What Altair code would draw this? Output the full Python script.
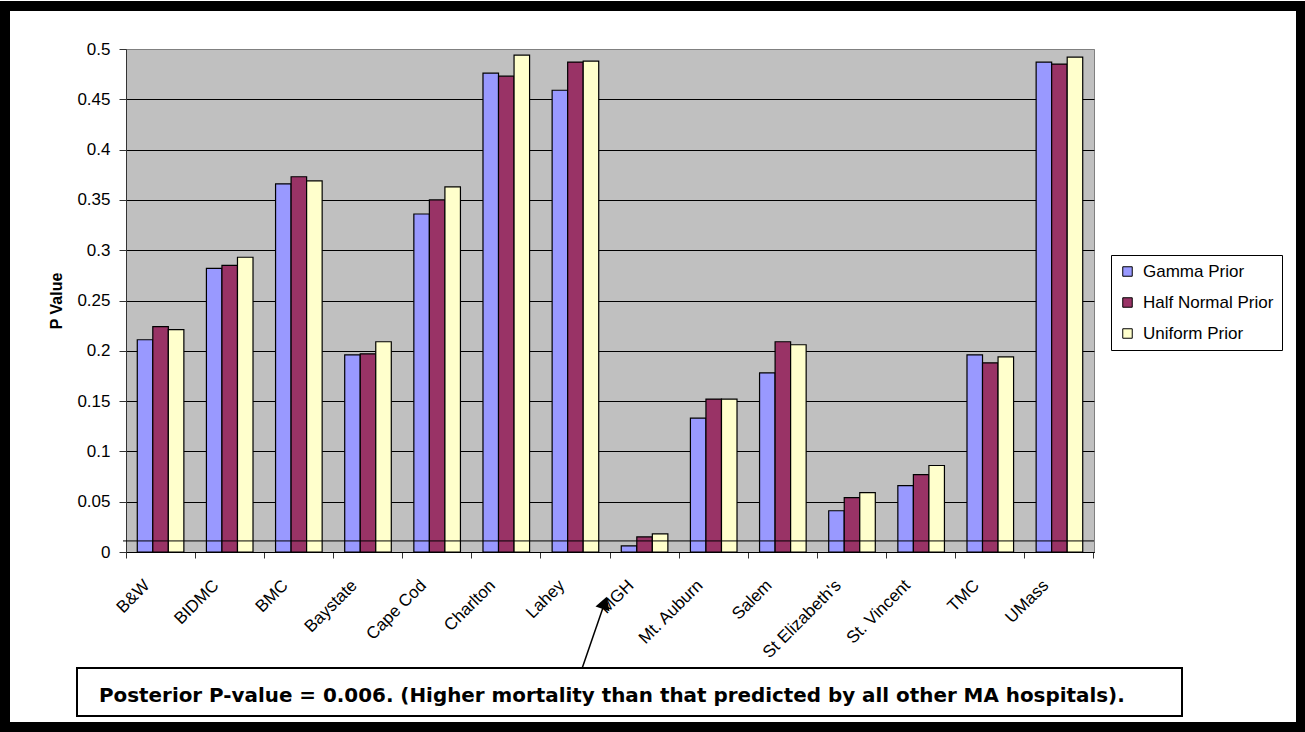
import altair as alt
import pandas as pd

hospitals = ["B&W", "BIDMC", "BMC", "Baystate", "Cape Cod", "Charlton", "Lahey", "MGH",
             "Mt. Auburn", "Salem", "St Elizabeth's", "St. Vincent", "TMC", "UMass"]
priors = ["Gamma Prior", "Half Normal Prior", "Uniform Prior"]
gamma = [0.211, 0.282, 0.366, 0.196, 0.336, 0.476, 0.459, 0.006, 0.133, 0.178, 0.041, 0.066, 0.196, 0.487]
half_normal = [0.224, 0.285, 0.373, 0.197, 0.350, 0.473, 0.487, 0.015, 0.152, 0.209, 0.054, 0.077, 0.188, 0.485]
uniform = [0.221, 0.293, 0.369, 0.209, 0.363, 0.494, 0.488, 0.018, 0.152, 0.206, 0.059, 0.086, 0.194, 0.492]
colors = ["#9999FF", "#993366", "#FFFFCC"]
y_ticks = [0, 0.05, 0.1, 0.15, 0.2, 0.25, 0.3, 0.35, 0.4, 0.45, 0.5]
threshold = [0.011]
note = "Posterior P-value = 0.006. (Higher mortality than that predicted by all other MA hospitals)."

rows = []
for series, vals in zip(priors, [gamma, half_normal, uniform]):
    for h, v in zip(hospitals, vals):
        rows.append({"hospital": h, "prior": series, "value": v})
df = pd.DataFrame(rows)

W, H = 968, 503

bars = alt.Chart(df).mark_bar(stroke="black", strokeWidth=1.2).encode(
    x=alt.X("hospital:N", sort=hospitals,
            scale=alt.Scale(paddingInner=0, paddingOuter=0),
            axis=alt.Axis(title=None, labelAngle=-45, labelAlign="right",
                          labelBaseline="alphabetic", labelFontSize=17,
                          labelColor="black", labelPadding=28, labelOverlap=False,
                          bandPosition=1, tickExtra=True, labelOffset=-10,
                          tickSize=6, tickColor="#333333", domainColor="black",
                          grid=False, labelLimit=0)),
    xOffset=alt.XOffset("prior:N", sort=priors,
                        scale=alt.Scale(paddingInner=0, paddingOuter=0.726)),
    y=alt.Y("value:Q", scale=alt.Scale(domain=[0, 0.5], nice=False),
            axis=alt.Axis(values=y_ticks, format="~g", title="P Value",
                          titleFontSize=16, titleFontWeight="bold", titleColor="black",
                          titlePadding=12,
                          labelFontSize=17, labelColor="black", labelPadding=9,
                          tickSize=7, tickColor="#333333", domainColor="#333333",
                          grid=True,
                          gridColor={"condition": {"test": "datum.value >= 0.5", "value": "#808080"},
                                     "value": "#000000"},
                          gridWidth=1)),
    color=alt.Color("prior:N", sort=priors,
                    scale=alt.Scale(domain=priors, range=colors),
                    legend=alt.Legend(title=None, orient="none", legendX=985, legendY=206,
                                      symbolType="square", symbolSize=90,
                                      symbolStrokeColor="black", symbolStrokeWidth=1,
                                      labelFontSize=17, labelColor="black",
                                      strokeColor="black", fillColor="white",
                                      padding=8, rowPadding=13, labelOffset=7)),
)

thr = alt.Chart(pd.DataFrame({"t": threshold})).mark_rule(color="black", strokeWidth=1).encode(
    y="t:Q", x=alt.value(-3), x2=alt.value(W)
)

one = pd.DataFrame({"k": [0]})

box = alt.Chart(one).mark_rect(fill="white", stroke="black", strokeWidth=2).encode(
    x=alt.value(-49), x2=alt.value(1056), y=alt.value(619), y2=alt.value(667)
)
txt = alt.Chart(one).mark_text(text=note, align="left", baseline="alphabetic",
                               font="DejaVu Sans", fontWeight="bold", fontSize=19.9,
                               color="black").encode(
    x=alt.value(-27), y=alt.value(653)
)
arrow_line = alt.Chart(one).mark_rule(color="black", strokeWidth=1.5).encode(
    x=alt.value(456.3), y=alt.value(618.7), x2=alt.value(478.6), y2=alt.value(554)
)
arrow_head = alt.Chart(one).mark_point(shape="triangle-up", filled=True, size=220,
                                       angle=19, color="black", opacity=1).encode(
    x=alt.value(478.6), y=alt.value(553.8)
)
frame = alt.Chart(one).mark_rect(fill="transparent", stroke="black", strokeWidth=10).encode(
    x=alt.value(-121), x2=alt.value(1175), y=alt.value(-43), y2=alt.value(678)
)

chart = alt.layer(bars, thr, box, txt, arrow_line, arrow_head, frame).properties(
    width=W, height=H,
    autosize=alt.AutoSizeParams(type="none"),
    padding={"left": 126, "top": 49, "right": 211, "bottom": 180},
    background="white",
).configure(font="Liberation Sans").configure_view(
    fill="#C0C0C0", stroke="#808080", strokeWidth=1
)

chart.save("out.html", embed_options={"renderer": "svg", "actions": False})
